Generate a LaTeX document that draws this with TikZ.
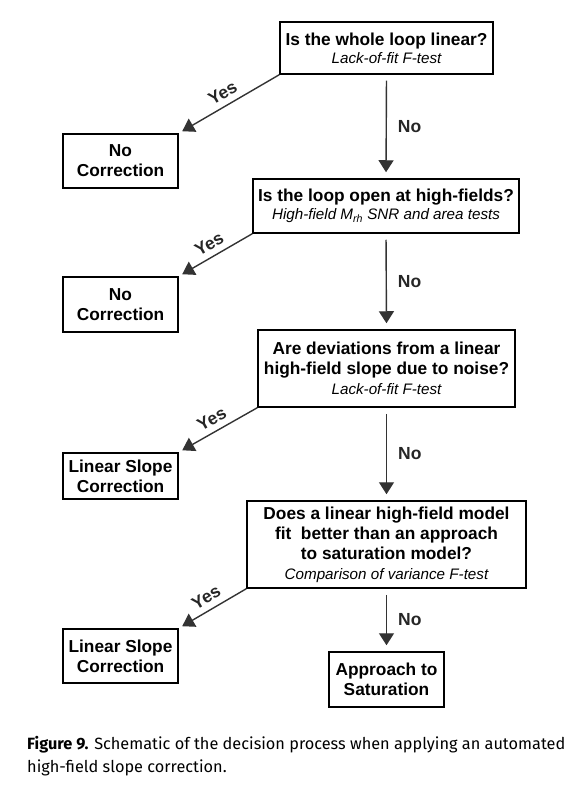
\documentclass[tikz,border=0pt]{standalone}
\usepackage{fontspec}
\setmainfont{Liberation Sans}
\newfontfamily\capfont{Fira Sans}
\usetikzlibrary{arrows.meta}
\begin{document}
\begin{tikzpicture}[x=1pt,y=1pt,
  box/.style={draw, line width=1.5pt, align=center, inner sep=0pt,
    font=\fontsize{17.3}{20}\selectfont\bfseries},
  arr/.style={line width=1.4pt, draw=black!80, -{Triangle[width=15pt,length=12pt]}, shorten >=4pt},
  vert/.style={arr, shorten <=6pt, shorten >=6pt},
  lab/.style={font=\fontsize{17.5}{20}\selectfont\bfseries, inner sep=0pt, text=black!85}]
\newcommand{\subtxt}[1]{{\fontsize{15.2}{18}\selectfont\mdseries\itshape #1}}
\useasboundingbox (0,0) rectangle (577,-786);

\node[box, minimum width=213pt, minimum height=52pt] (q1) at (386.5,-48)
  {Is the whole loop linear?\\[-2pt]\subtxt{Lack-of-fit F-test}};
\node[box, minimum width=266pt, minimum height=54pt] (q2) at (386,-206)
  {Is the loop open at high-fields?\\[-2pt]\subtxt{High-field M\textsubscript{rh} SNR and area tests}};
\node[box, minimum width=257pt, minimum height=77pt] (q3) at (386.5,-368.5)
  {Are deviations from a linear\\high-field slope due to noise?\\\subtxt{Lack-of-fit F-test}};
\node[box, minimum width=279pt, minimum height=87pt] (q4) at (386.5,-544.5)
  {Does a linear high-field model\\fit~ better than an approach\\to saturation model?\\\subtxt{Comparison of variance F-test}};
\node[box, minimum width=115pt, minimum height=55pt] (sat) at (386.5,-679.5)
  {Approach to\\Saturation};

\node[box, minimum width=115pt, minimum height=54pt] (nc1) at (120.5,-161) {No\\Correction};
\node[box, minimum width=115pt, minimum height=55pt] (nc2) at (120.5,-304.5) {No\\Correction};
\node[box, minimum width=115pt, minimum height=46pt] (ls1) at (120.5,-476) {Linear Slope\\Correction};
\node[box, minimum width=115pt, minimum height=54pt] (ls2) at (120.5,-656) {Linear Slope\\Correction};

\draw[vert] (q1.south) -- node[lab, right=11pt] {No} (q2.north);
\draw[vert] (q2.south) -- node[lab, right=11pt] {No} (q3.north);
\draw[vert] (q3.south) -- node[lab, right=11pt] {No} (q4.north);
\draw[vert] (q4.south) -- node[lab, right=11pt] {No} (sat.north);

\draw[arr] (q1.south west) -- node[lab, sloped, above=6pt] {Yes} (nc1.north east);
\draw[arr] (q2.south west) -- node[lab, sloped, above=6pt] {Yes} (nc2.north east);
\draw[arr] (q3.south west) -- node[lab, sloped, above=6pt] {Yes} (ls1.north east);
\draw[arr] (q4.south west) -- node[lab, sloped, above=6pt] {Yes} (ls2.north east);

\node[anchor=west, align=left, inner sep=0pt, font=\capfont\fontsize{16.3}{22.5}\selectfont] (cap) at (27,-756)
  {\textbf{Figure 9.} Schematic of the decision process when applying an automated\\high-field slope correction.};
\end{tikzpicture}
\end{document}
